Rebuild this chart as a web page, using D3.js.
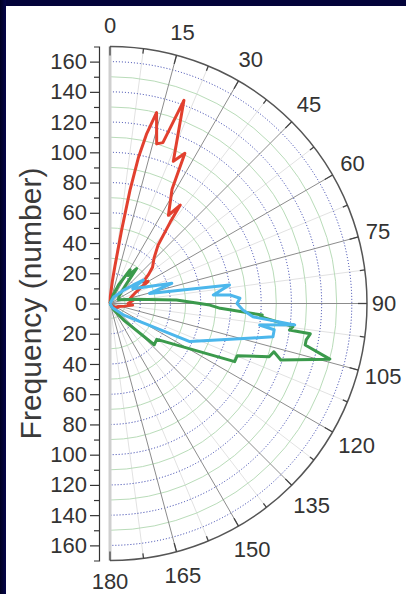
<!DOCTYPE html>
<html>
<head>
<meta charset="utf-8">
<script src="https://cdn.jsdelivr.net/npm/d3@7"></script>
<style>
  body { margin: 0; background: #03033a; }
  svg { display: block; }
  text { font-family: "Liberation Sans", Arial, sans-serif; }
  .yaxis text { font-size: 22px; fill: #333; }
</style>
</head>
<body>
<svg></svg>
<script>
// angle ticks (degrees, 0 at top, clockwise)
const angleTicks = d3.range(0, 181, 15);
const freqTicks = d3.range(-160, 161, 20);

// red series
const redAngles = [0, 3, 6, 7.5, 9, 10, 11, 12.2, 13.7, 16.3, 18.2, 20, 24, 26.5, 28.5, 33.5, 35.5, 36.5, 39.5, 44, 49.5, 53, 57, 60, 66, 75, 81, 90, 94, 100, 110, 125, 140, 180];
const redValues = [0, 5, 15, 25, 49, 76, 98, 115, 130, 110, 112, 143, 103, 111, 86, 70, 80, 67, 50, 42, 37, 32, 26, 29, 19, 14, 16, 12, 15, 10, 6, 5, 2, 0];

// green series
const greenAngles = [0, 20, 25, 30.8, 33, 37.2, 40, 50, 65, 80, 87, 90.9, 92.5, 94.3, 95, 97.2, 98.4, 98.6, 100.5, 102, 104.2, 108.3, 106.4, 108.5, 112.3, 115, 127.5, 133, 140, 150, 180];
const greenValues = [0, 6, 14, 26, 22, 29, 17, 8, 6, 16, 44, 66, 73, 101, 100, 122, 120, 134, 132, 132, 150, 119, 113, 111, 91, 91, 39, 40, 15, 5, 0];

// blue series
const blueAngles = [0, 30, 45, 51.5, 54.8, 57, 71.9, 75.7, 81.2, 85.3, 86, 87.7, 90, 92.8, 95.3, 96.6, 98.2, 99.1, 101.5, 103.6, 115.5, 130, 150, 180];
const blueValues = [0, 5, 12, 19.7, 27, 18, 43, 27, 80, 68.6, 80, 86, 84, 88, 95, 123, 100, 110, 110, 97, 58.5, 12, 3, 0];

const W = 406, H = 594;
const cx = 110, cy = 303.5, R = 257;

const svg = d3.select('svg').attr('width', W).attr('height', H);

const bg = svg.append('defs').append('linearGradient').attr('id', 'lb');
bg.append('stop').attr('offset', '0%').attr('stop-color', '#000022');
bg.append('stop').attr('offset', '100%').attr('stop-color', '#05054a');
svg.append('rect').attr('width', W).attr('height', H).attr('fill', '#03033a');
svg.append('rect').attr('width', 6).attr('height', H).attr('fill', 'url(#lb)');
svg.append('rect').attr('x', 6).attr('y', 6).attr('width', W - 6).attr('height', H - 6).attr('fill', '#fff');

const r = d3.scaleLinear().domain([0, 170]).range([0, R]);
const rad = d => d * Math.PI / 180;

const g = svg.append('g').attr('transform', `translate(${cx},${cy})`);

const halfCircle = rr => `M0,${-rr}A${rr},${rr} 0 0 1 0,${rr}`;

// minor radial lines
g.selectAll('.rminor')
  .data(d3.range(7.5, 180, 15))
  .enter().append('line')
  .attr('x2', d => r(170) * Math.sin(rad(d)))
  .attr('y2', d => -r(170) * Math.cos(rad(d)))
  .attr('stroke', '#e2e2e2').attr('stroke-width', 1);

// circles: green at odd tens, blue dotted at even tens
g.selectAll('.cgreen')
  .data(d3.range(10, 170, 20))
  .enter().append('path')
  .attr('d', d => halfCircle(r(d)))
  .attr('fill', 'none').attr('stroke', '#b9dcb9').attr('stroke-width', 1);

g.selectAll('.cblue')
  .data(d3.range(20, 170, 20))
  .enter().append('path')
  .attr('d', d => halfCircle(r(d)))
  .attr('fill', 'none').attr('stroke', '#2a36a8').attr('stroke-width', 1)
  .attr('stroke-dasharray', '1,2');

// major radial lines
g.selectAll('.rmajor')
  .data(d3.range(15, 180, 15))
  .enter().append('line')
  .attr('x2', d => r(170) * Math.sin(rad(d)))
  .attr('y2', d => -r(170) * Math.cos(rad(d)))
  .attr('stroke', '#8c8c8c').attr('stroke-width', 1);

// 0-180 line
g.append('line')
  .attr('y1', -r(170)).attr('y2', r(170))
  .attr('stroke', '#cfcfcf').attr('stroke-width', 3);

// series
const line = d3.lineRadial()
  .angle(d => rad(d[0]))
  .radius(d => r(d[1]));

const series = [
  { a: redAngles, v: redValues, c: '#e2402f' },
  { a: greenAngles, v: greenValues, c: '#3b9a4c' },
  { a: blueAngles, v: blueValues, c: '#4cb7ec' }
];

series.forEach(s => {
  g.append('path')
    .datum(s.a.map((d, i) => [d, s.v[i]]))
    .attr('d', line)
    .attr('fill', 'none')
    .attr('stroke', s.c)
    .attr('stroke-width', 3)
    .attr('stroke-linejoin', 'round');
});

// outer arc with inward ticks
g.append('path')
  .attr('d', halfCircle(r(170)))
  .attr('fill', 'none').attr('stroke', '#555').attr('stroke-width', 1.5);

g.selectAll('.atick')
  .data(d3.range(0, 181, 7.5))
  .enter().append('line')
  .attr('x1', d => r(170) * Math.sin(rad(d)))
  .attr('y1', d => -r(170) * Math.cos(rad(d)))
  .attr('x2', d => (r(170) - (d % 15 === 0 ? 9 : 5)) * Math.sin(rad(d)))
  .attr('y2', d => -(r(170) - (d % 15 === 0 ? 9 : 5)) * Math.cos(rad(d)))
  .attr('stroke', '#444').attr('stroke-width', 1.3);

// angle labels, pushed out by their own size
g.selectAll('.alabel')
  .data(angleTicks)
  .enter().append('text')
  .attr('text-anchor', 'middle')
  .attr('dominant-baseline', 'central')
  .attr('font-size', 22)
  .attr('fill', '#333')
  .text(d => d)
  .each(function(d) {
    const w = this.getComputedTextLength();
    const s = Math.abs(Math.sin(rad(d))), c = Math.abs(Math.cos(rad(d)));
    const dist = 263 + (w / 2) * s * 0.9 + 15 * c;
    d3.select(this)
      .attr('x', dist * Math.sin(rad(d)))
      .attr('y', -dist * Math.cos(rad(d)));
  });

// frequency axis
const y = d3.scaleLinear().domain([-170, 170]).range([cy + R, cy - R]);

const yAxis = svg.append('g')
  .attr('class', 'yaxis')
  .attr('transform', 'translate(99,0)')
  .call(d3.axisLeft(y).tickValues(freqTicks).tickFormat(d => Math.abs(d))
    .tickSize(9).tickSizeOuter(5).tickPadding(3));
yAxis.attr('font-size', 22).attr('font-family', '"Liberation Sans", Arial, sans-serif');
yAxis.selectAll('line,path').attr('stroke', '#333').attr('stroke-width', 1.2);

const yMinor = svg.append('g')
  .attr('transform', 'translate(99,0)')
  .call(d3.axisLeft(y).tickValues(d3.range(-150, 151, 20)).tickFormat('').tickSize(5));
yMinor.select('.domain').remove();
yMinor.selectAll('line').attr('stroke', '#333').attr('stroke-width', 1.2);

svg.append('text')
  .attr('transform', `translate(30,${cy}) rotate(-90)`)
  .attr('text-anchor', 'middle')
  .attr('dominant-baseline', 'central')
  .attr('font-size', 30)
  .attr('fill', '#3a3a3a')
  .text('Frequency (number)');
</script>
</body>
</html>
